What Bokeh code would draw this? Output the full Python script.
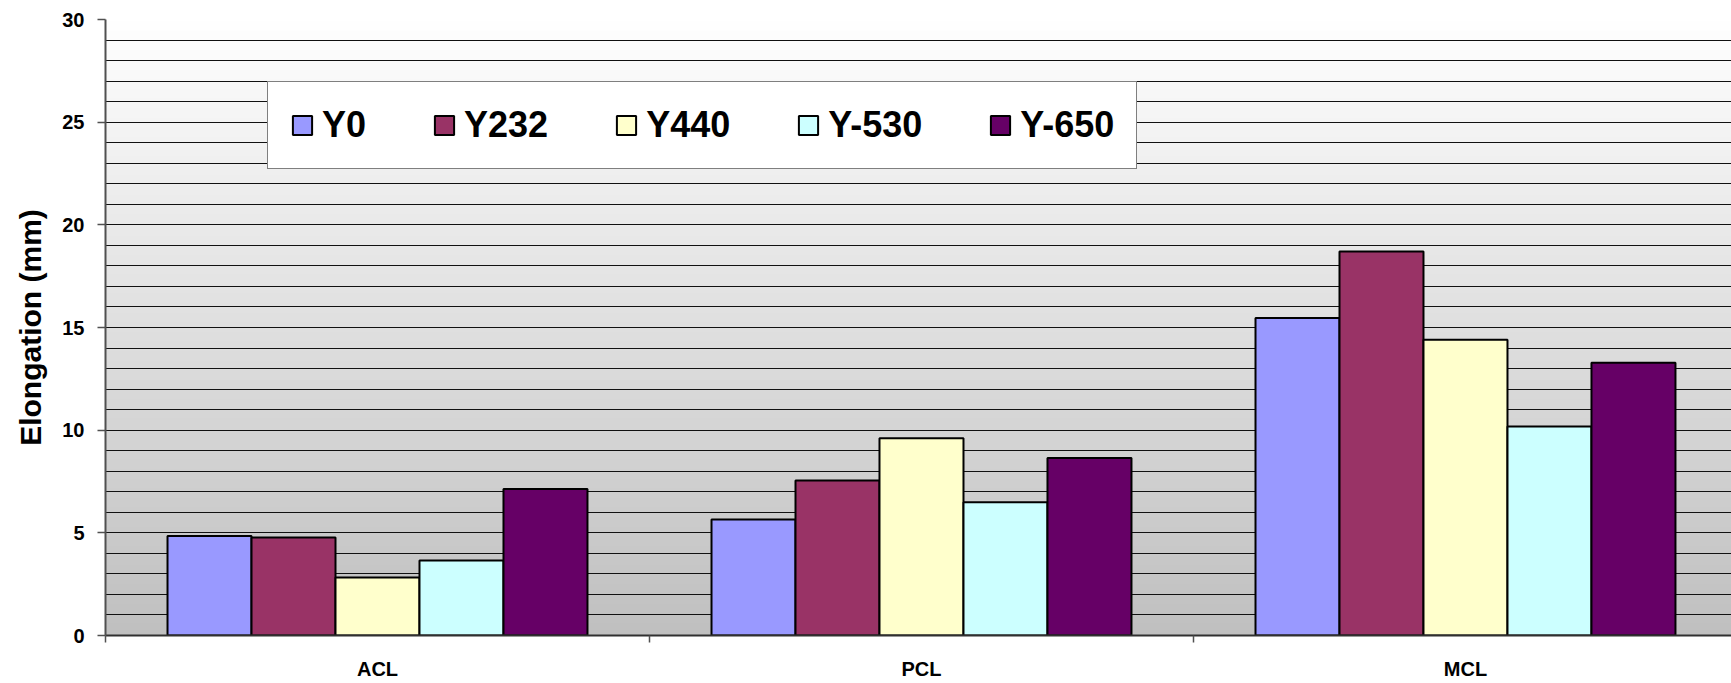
import numpy as np
from bokeh.plotting import figure
from bokeh.models import Range1d, FixedTicker, Legend, LegendItem, ColumnDataSource
from bokeh.transform import dodge
from bokeh.embed import file_html
from bokeh.resources import INLINE

# ---- data ----
categories = ["ACL", "PCL", "MCL"]
series = ["Y0", "Y232", "Y440", "Y-530", "Y-650"]
y0 = [4.84, 5.65, 15.46]
y232 = [4.77, 7.55, 18.70]
y440 = [2.83, 9.61, 14.40]
y530 = [3.65, 6.49, 10.18]
y650 = [7.13, 8.64, 13.28]
colors = ["#9999FF", "#993366", "#FFFFCC", "#CCFFFF", "#660066"]
y_ticks = [0, 5, 10, 15, 20, 25, 30]
y_title = "Elongation (mm)"

FONT = "Liberation Sans"
BAR_W = 0.1544

p = figure(width=1731, height=683, output_backend="svg", toolbar_location=None,
           x_range=Range1d(0, 2.989), y_range=Range1d(0, 30),
           min_border_left=105, min_border_right=0, min_border_top=19,
           min_border_bottom=48)
p.background_fill_color = "white"
p.border_fill_color = "white"
p.outline_line_color = None

# gradient background of the plot area (white at top, silver at bottom)
n = 256
g = np.linspace(192, 255, n).astype(np.uint8)
img = np.empty((n, 1), dtype=np.uint32)
view = img.view(dtype=np.uint8).reshape((n, 1, 4))
view[:, 0, 0] = g
view[:, 0, 1] = g
view[:, 0, 2] = g
view[:, 0, 3] = 255
p.image_rgba(image=[img], x=0, y=0, dw=len(categories), dh=30, level="image")

# grid
p.xgrid.visible = False
p.ygrid.ticker = FixedTicker(ticks=list(range(0, 31)))
p.ygrid.grid_line_color = "#111111"
p.ygrid.grid_line_width = 1

# bars
centers = [i + 0.5 for i in range(len(categories))]
source = ColumnDataSource(dict(x=centers, Y0=y0, Y232=y232, Y440=y440,
                               Y530=y530, Y650=y650))
keys = ["Y0", "Y232", "Y440", "Y530", "Y650"]
renderers = []
for i, (k, c) in enumerate(zip(keys, colors)):
    r = p.vbar(x=dodge("x", (i - 2) * BAR_W, range=p.x_range), top=k, bottom=0,
               width=BAR_W, source=source, fill_color=c, line_color="black",
               line_width=2)
    renderers.append(r)

# y axis
ya = p.yaxis[0]
ya.ticker = FixedTicker(ticks=y_ticks)
ya.axis_line_color = "#505050"
ya.axis_line_width = 2
ya.major_tick_line_color = "#505050"
ya.major_tick_line_width = 1.5
ya.major_tick_out = 8
ya.major_tick_in = 0
ya.minor_tick_line_color = None
ya.major_label_text_font = FONT
ya.major_label_text_font_style = "bold"
ya.major_label_text_font_size = "20px"
ya.major_label_text_color = "black"
ya.major_label_standoff = 13
ya.axis_label = y_title
ya.axis_label_text_font = FONT
ya.axis_label_text_font_style = "bold"
ya.axis_label_text_font_size = "30px"
ya.axis_label_text_color = "black"
ya.axis_label_standoff = 12

# x axis
xa = p.xaxis[0]
xa.ticker = FixedTicker(ticks=centers, minor_ticks=list(range(len(categories) + 1)))
xa.major_label_overrides = {c: lab for c, lab in zip(centers, categories)}
xa.major_tick_out = 0
xa.major_tick_in = 0
xa.major_tick_line_color = None
xa.minor_tick_out = 7
xa.minor_tick_in = 0
xa.minor_tick_line_color = "#505050"
xa.minor_tick_line_width = 1.5
xa.axis_line_color = "#303030"
xa.axis_line_width = 2
xa.major_label_text_font = FONT
xa.major_label_text_font_style = "bold"
xa.major_label_text_font_size = "20px"
xa.major_label_text_color = "black"
xa.major_label_standoff = 15

# legend
legend = Legend(items=[LegendItem(label=s, renderers=[r]) for s, r in zip(series, renderers)],
                orientation="horizontal", location=(162, 466), padding=22, spacing=66,
                glyph_width=24, glyph_height=24, label_standoff=8,
                label_text_font=FONT, label_text_font_style="bold",
                label_text_font_size="36px", label_text_line_height=1.0,
                label_text_color="black",
                border_line_color="black", border_line_width=1,
                background_fill_color="white", background_fill_alpha=1.0, margin=0)
p.add_layout(legend, "center")

open("out.html", "w").write(file_html(p, INLINE))
